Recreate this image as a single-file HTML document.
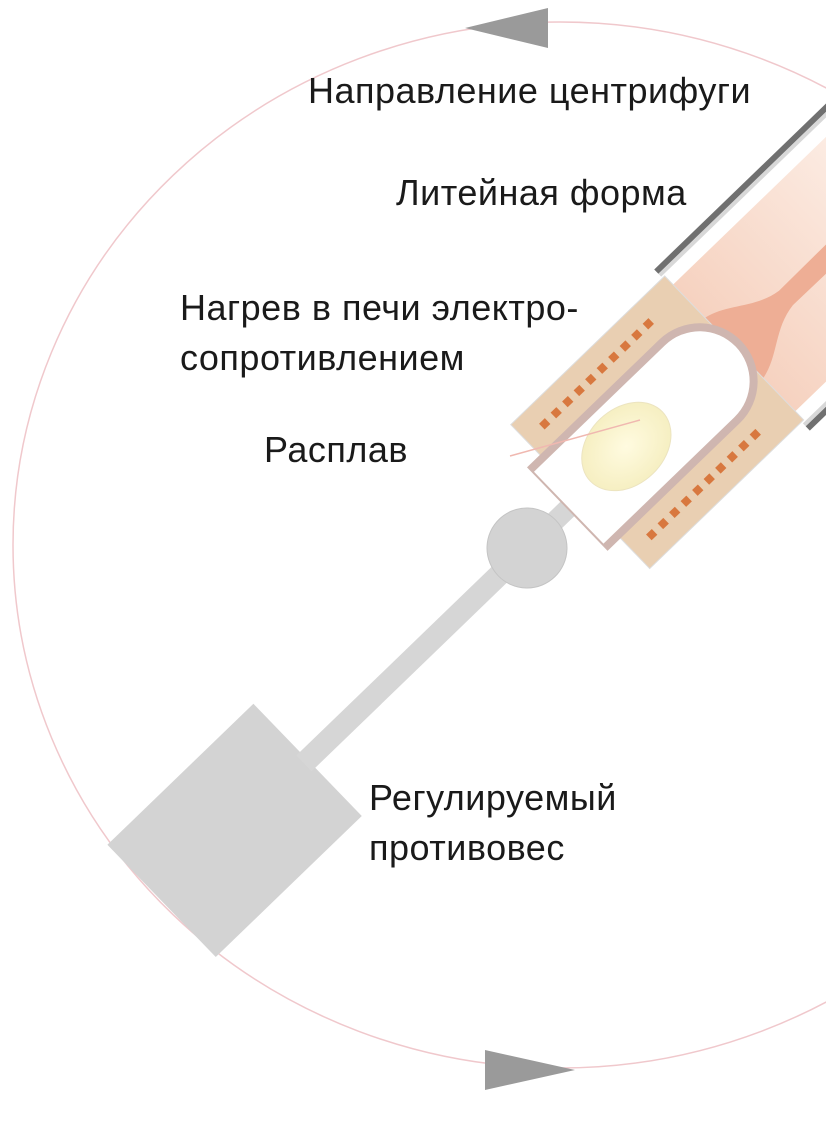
<!DOCTYPE html>
<html><head><meta charset="utf-8"><style>
html,body{margin:0;padding:0;background:#fff;}
svg{display:block}
text{font-family:"Liberation Sans",sans-serif;font-size:36px;letter-spacing:0.5px;fill:#1a1a1a;}
</style></head><body>
<svg width="826" height="1143" viewBox="0 0 826 1143" xmlns="http://www.w3.org/2000/svg">
<defs>
<linearGradient id="mold" x1="0" y1="0" x2="1" y2="0">
<stop offset="0" stop-color="#f6d2c0"/><stop offset="1" stop-color="#fdf1ea"/></linearGradient>
<radialGradient id="melt"><stop offset="0" stop-color="#fffbe0"/><stop offset="1" stop-color="#f6efc2"/></radialGradient>
</defs>
<ellipse cx="560" cy="545" rx="547" ry="523" fill="none" stroke="#f0c8cc" stroke-width="1.5"/>
<polygon points="548,8 548,48 465,28" fill="#9a9a9a"/>
<polygon points="485,1050 485,1090 575,1070" fill="#9a9a9a"/>
<g transform="translate(527,548) rotate(-44)">
<rect x="-508" y="-78" width="203" height="156" fill="#d3d3d3"/>
<rect x="-310" y="-11" width="275" height="22" fill="#d6d6d6"/>
<rect x="30" y="-10" width="40" height="20" fill="#d6d6d6"/>
<circle cx="0" cy="0" r="40" fill="#d3d3d3" stroke="#c4c4c4"/>
<rect x="288" y="-88" width="260" height="176" fill="url(#mold)"/>
<rect x="285" y="-112" width="260" height="6" fill="#707070"/>
<rect x="285" y="-106" width="260" height="4" fill="#d8d8d8"/>
<rect x="285" y="106" width="260" height="6" fill="#707070"/>
<rect x="285" y="102" width="260" height="4" fill="#d8d8d8"/>
<path d="M288,-42 C315,-36 330,-14 360,-10 L560,-12 L560,12 L360,10 C330,14 315,36 288,42 Z" fill="#eeae95"/>
<rect x="74" y="-100" width="214" height="200" fill="#e9cfb2" stroke="#ddd" stroke-width="1"/>
<path d="M56,-58 L240,-58 A58,58 0 0 1 240,58 L56,58 Z" fill="#cfb6b0"/>
<path d="M58,-50 L240,-50 A50,50 0 0 1 240,50 L58,50 Z" fill="#fff"/>
<ellipse cx="142" cy="-4" rx="50" ry="38" fill="url(#melt)" stroke="#ece4c0"/>
<g fill="#d8783f">
<rect x="95" y="-81" width="8" height="8"/><rect x="111" y="-81" width="8" height="8"/><rect x="127" y="-81" width="8" height="8"/><rect x="143" y="-81" width="8" height="8"/><rect x="159" y="-81" width="8" height="8"/><rect x="175" y="-81" width="8" height="8"/><rect x="191" y="-81" width="8" height="8"/><rect x="207" y="-81" width="8" height="8"/><rect x="223" y="-81" width="8" height="8"/><rect x="239" y="-81" width="8" height="8"/>
<rect x="95" y="73" width="8" height="8"/><rect x="111" y="73" width="8" height="8"/><rect x="127" y="73" width="8" height="8"/><rect x="143" y="73" width="8" height="8"/><rect x="159" y="73" width="8" height="8"/><rect x="175" y="73" width="8" height="8"/><rect x="191" y="73" width="8" height="8"/><rect x="207" y="73" width="8" height="8"/><rect x="223" y="73" width="8" height="8"/><rect x="239" y="73" width="8" height="8"/>
</g>
</g>
<line x1="510" y1="456" x2="640" y2="420" stroke="#f0b8b0" stroke-width="1.5"/>
<text x="308" y="103">Направление центрифуги</text>
<text x="396" y="205">Литейная форма</text>
<text x="180" y="320">Нагрев в печи электро-</text>
<text x="180" y="370">сопротивлением</text>
<text x="264" y="462">Расплав</text>
<text x="369" y="810">Регулируемый</text>
<text x="369" y="860">противовес</text>
</svg>
</body></html>
